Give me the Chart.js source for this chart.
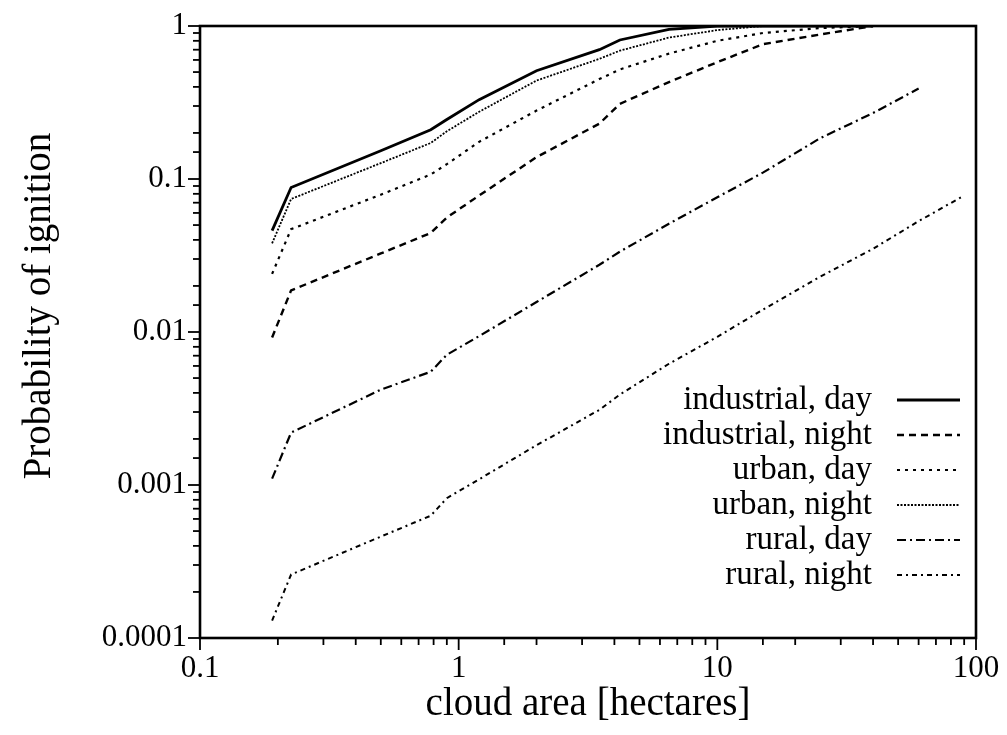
<!DOCTYPE html>
<html>
<head>
<meta charset="utf-8">
<script src="https://cdn.jsdelivr.net/npm/chart.js@4.4.0/dist/chart.umd.min.js"></script>
<style>
  html, body { margin: 0; padding: 0; background: #fff; }
  #wrap { width: 1007px; height: 735px; }
</style>
</head>
<body>
<div id="wrap"><canvas id="chart" width="1007" height="735"></canvas></div>
<script>
// cloud area [hectares], shared x positions of all curves
const area = [0.19, 0.225, 0.5, 0.78, 0.9, 1.2, 2, 3.5, 4.2, 6.5, 10, 15, 25, 40, 60, 90];

// probability of ignition (null = curve not drawn there)
const industrialDay   = [0.046, 0.088, 0.153, 0.21, 0.245, 0.33, 0.51, 0.70, 0.81, 0.95, 1, 1, 1, 1, null, null];
const industrialNight = [0.0092, 0.0187, 0.0326, 0.0444, 0.056, 0.078, 0.139, 0.23, 0.31, 0.43, 0.58, 0.76, 0.88, 1, null, null];
const urbanDay        = [0.024, 0.047, 0.079, 0.107, 0.125, 0.175, 0.28, 0.45, 0.52, 0.66, 0.80, 0.90, 0.97, 1, null, null];
const urbanNight      = [0.038, 0.074, 0.127, 0.172, 0.205, 0.275, 0.44, 0.61, 0.69, 0.84, 0.94, 1, 1, 1, null, null];
const ruralDay        = [0.0011, 0.0022, 0.0042, 0.0055, 0.0071, 0.0094, 0.0157, 0.0275, 0.0335, 0.051, 0.076, 0.11, 0.185, 0.27, 0.39, null];
const ruralNight      = [0.00013, 0.00026, 0.00046, 0.00063, 0.00082, 0.00109, 0.00182, 0.0031, 0.0039, 0.0062, 0.0093, 0.014, 0.023, 0.035, 0.053, 0.078];

const seriesLabels = ['industrial, day', 'industrial, night', 'urban, day', 'urban, night', 'rural, day', 'rural, night'];
const xTickLabels = ['0.1', '1', '10', '100'];
const yTickLabels = ['0.0001', '0.001', '0.01', '0.1', '1'];
const yTitle = 'Probability of ignition';

const FONT = '"Liberation Serif", "Times New Roman", serif';

function toPoints(ys) {
    let pts = [];
    for (let i = 0; i < area.length; i++) {
        if (ys[i] !== null) pts.push({ x: area[i], y: ys[i] });
    }
    return pts;
}

function decadeIndex(v) {
    let e = Math.log10(v);
    let r = Math.round(e);
    return Math.abs(e - r) < 1e-6 ? r : null;
}

// line styles: solid, dashes, sparse dots, dense dots, dash-dot, short dash-dot
const styles = [
    { dash: [], width: 2.8 },
    { dash: [7, 5], width: 2.4 },
    { dash: [3, 5], width: 2.2 },
    { dash: [2, 1.5], width: 1.8 },
    { dash: [9, 4, 2, 4], width: 2.2 },
    { dash: [5, 4, 2, 4], width: 2 }
];
const allSeries = [industrialDay, industrialNight, urbanDay, urbanNight, ruralDay, ruralNight];

const datasets = allSeries.map(function(ys, i) {
    return {
        label: seriesLabels[i],
        data: toPoints(ys),
        borderColor: '#000',
        borderWidth: styles[i].width,
        borderDash: styles[i].dash,
        pointRadius: 0,
        tension: 0,
        fill: false
    };
});

// box around the plot + gnuplot style ticks (long at decades) + y title
const framePlugin = {
    id: 'frame',
    afterDraw(chart) {
        let ctx = chart.ctx;
        let a = chart.chartArea;
        ctx.save();
        ctx.strokeStyle = '#000';
        ctx.setLineDash([]);
        ctx.lineWidth = 2.6;
        ctx.strokeRect(a.left, a.top, a.right - a.left, a.bottom - a.top);
        ctx.lineWidth = 1.8;
        let xs = chart.scales.x;
        xs.ticks.forEach(function(t) {
            let px = xs.getPixelForValue(t.value);
            let len = decadeIndex(t.value) !== null ? 12 : 7;
            ctx.beginPath();
            ctx.moveTo(px, a.bottom);
            ctx.lineTo(px, a.bottom + len);
            ctx.stroke();
        });
        let ys = chart.scales.y;
        ys.ticks.forEach(function(t) {
            let py = ys.getPixelForValue(t.value);
            let len = decadeIndex(t.value) !== null ? 12 : 7;
            ctx.beginPath();
            ctx.moveTo(a.left, py);
            ctx.lineTo(a.left - len, py);
            ctx.stroke();
        });

        // y axis title sits a bit above the middle of the axis in the original
        ctx.translate(40, a.top + 280);
        ctx.rotate(-Math.PI / 2);
        ctx.font = '39px ' + FONT;
        ctx.fillStyle = '#000';
        ctx.textAlign = 'center';
        ctx.textBaseline = 'middle';
        ctx.fillText(yTitle, 0, 0);
        ctx.restore();
    }
};

// legend in the lower right: text right aligned, line sample after it
const legendPlugin = {
    id: 'rightLegend',
    afterDatasetsDraw(chart) {
        let ctx = chart.ctx;
        let a = chart.chartArea;
        ctx.save();
        ctx.font = '33px ' + FONT;
        ctx.textAlign = 'right';
        ctx.textBaseline = 'middle';
        ctx.fillStyle = '#000';
        ctx.strokeStyle = '#000';
        chart.data.datasets.forEach(function(ds, i) {
            let y = a.top + 374 + i * 35;
            ctx.fillText(ds.label, a.right - 104, y);
            ctx.beginPath();
            ctx.setLineDash(ds.borderDash);
            ctx.lineWidth = ds.borderWidth;
            ctx.moveTo(a.right - 79, y);
            ctx.lineTo(a.right - 16, y);
            ctx.stroke();
        });
        ctx.restore();
    }
};

new Chart(document.getElementById('chart'), {
    type: 'line',
    data: { datasets: datasets },
    options: {
        responsive: false,
        animation: false,
        layout: { padding: { left: 0, right: 31, top: 26, bottom: 0 } },
        plugins: {
            legend: { display: false },
            tooltip: { enabled: false }
        },
        scales: {
            x: {
                type: 'logarithmic',
                position: 'bottom',
                min: 0.1,
                max: 100,
                border: { display: false },
                grid: { display: false, drawTicks: true, tickLength: 12 },
                ticks: {
                    autoSkip: false,
                    maxRotation: 0,
                    padding: 0,
                    color: '#000',
                    font: { family: FONT, size: 31 },
                    callback: function(v) {
                        let r = decadeIndex(v);
                        return r === null ? '' : (xTickLabels[r + 1] || '');
                    }
                },
                title: {
                    display: true,
                    text: 'cloud area [hectares]',
                    color: '#000',
                    font: { family: FONT, size: 39 },
                    padding: { top: 0, bottom: 7 }
                },
                afterFit: function(s) { s.height = 97; }
            },
            y: {
                type: 'logarithmic',
                position: 'left',
                min: 0.0001,
                max: 1,
                border: { display: false },
                grid: { display: false, drawTicks: true, tickLength: 12 },
                ticks: {
                    autoSkip: false,
                    padding: 1,
                    color: '#000',
                    font: { family: FONT, size: 31 },
                    callback: function(v) {
                        let r = decadeIndex(v);
                        return r === null ? '' : (yTickLabels[r + 4] || '');
                    }
                },
                afterFit: function(s) { s.width = 200; }
            }
        }
    },
    plugins: [framePlugin, legendPlugin]
});
</script>
</body>
</html>
